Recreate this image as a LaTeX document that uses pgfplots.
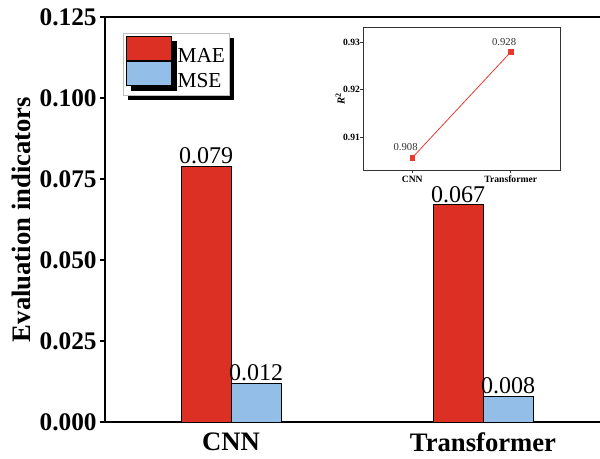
\documentclass[border=0pt]{standalone}
\usepackage{pgfplots}
\pgfplotsset{compat=1.18}
\usepackage{fontspec}
\setmainfont{Liberation Serif}
\usetikzlibrary{shadows}
\definecolor{maered}{RGB}{221,48,36}
\definecolor{mseblue}{RGB}{147,190,232}
\definecolor{linered}{RGB}{232,57,47}
\begin{document}
\begin{tikzpicture}
\begin{axis}[
  at={(78.75pt,27pt)}, anchor=south west,
  scale only axis, width=378pt, height=303.75pt,
  xmin=-0.5, xmax=1.5, ymin=0, ymax=0.125,
  ybar=0pt, bar width=37.5pt,
  xtick={0,1}, xticklabels={CNN,Transformer},
  xtick style={draw=none},
  ytick={0,0.025,0.05,0.075,0.1,0.125},
  scaled y ticks=false,
  /pgf/number format/assume math mode=true,
  yticklabel={\pgfmathprintnumber[fixed,fixed zerofill,precision=3]{\tick}},
  yticklabel style={font=\fontsize{19}{21}\selectfont\bfseries, xshift=1pt},
  xticklabel style={font=\fontsize{20}{22}\selectfont\bfseries, yshift=-1pt},
  tick align=outside, major tick length=3.75pt, ytick pos=left,
  axis line style={line width=1.5pt},
  every tick/.style={line width=1.2pt, black},
  ylabel={Evaluation indicators},
  ylabel shift=0pt,
  ylabel style={font=\fontsize{20}{22}\selectfont\bfseries},
  nodes near coords,
  nodes near coords style={font=\fontsize{18}{20}\selectfont, anchor=south, inner sep=1pt,
     /pgf/number format/.cd, fixed, fixed zerofill, precision=3},
  legend style={at={(0.0357,0.9605)}, anchor=north west, draw=gray!50, fill=white,
     drop shadow={shadow xshift=3.5pt, shadow yshift=-3.5pt, fill=black, opacity=1},
     font=\fontsize{16}{18}\selectfont, inner xsep=2pt, inner ysep=2pt, row sep=-5pt,
     nodes={inner ysep=0pt, inner xsep=1pt, text height=14.3pt, text depth=3.7pt},
     /tikz/every odd column/.append style={column sep=3pt}},
  legend cell align=left,
  legend image code/.code={\draw[#1, draw=black, line width=0.75pt] (0pt,-3.7pt) rectangle (34pt,14.3pt);},
]
\addplot[fill=maered, draw=black, line width=0.75pt] coordinates {(0,0.079) (1,0.067)};
\addplot[fill=mseblue, draw=black, line width=0.75pt] coordinates {(0,0.012) (1,0.008)};
\legend{MAE,MSE}
\end{axis}
\begin{axis}[
  at={(272.25pt,216pt)}, anchor=south west,
  scale only axis, width=147.75pt, height=107.25pt,
  xmin=-0.5, xmax=1.5, ymin=0.903, ymax=0.9333,
  xtick={0,1}, xticklabels={CNN,Transformer},
  ytick={0.91,0.92,0.93},
  /pgf/number format/assume math mode=true,
  yticklabel={\pgfmathprintnumber[fixed,fixed zerofill,precision=2]{\tick}},
  ticklabel style={font=\fontsize{7.2}{8}\selectfont\bfseries},
  yticklabel style={xshift=3.5pt},
  xticklabel style={yshift=1.5pt},
  tick align=outside, major tick length=2.25pt, xtick pos=bottom, ytick pos=left,
  axis line style={line width=0.6pt, black!80},
  every tick/.style={line width=0.6pt, black!80},
  axis background/.style={fill=white},
  ylabel={\textbf{\textit{R}\textsuperscript{2}}},
  ylabel shift=-8pt,
  ylabel style={font=\fontsize{8}{9}\selectfont},
]
\addplot[linered, line width=0.6pt, mark=square*, mark size=1.7pt, mark options={fill=linered},
  nodes near coords, point meta=explicit symbolic,
  nodes near coords style={font=\fontsize{8}{9}\selectfont, text=black!80, anchor=south, xshift=-5pt, yshift=1.5pt}]
  coordinates {(0,0.9056) [0.908] (1,0.928) [0.928]};
\end{axis}
\pgfresetboundingbox
\path[use as bounding box] (0pt,0pt) rectangle (450pt,343.5pt);
\end{tikzpicture}
\end{document}
